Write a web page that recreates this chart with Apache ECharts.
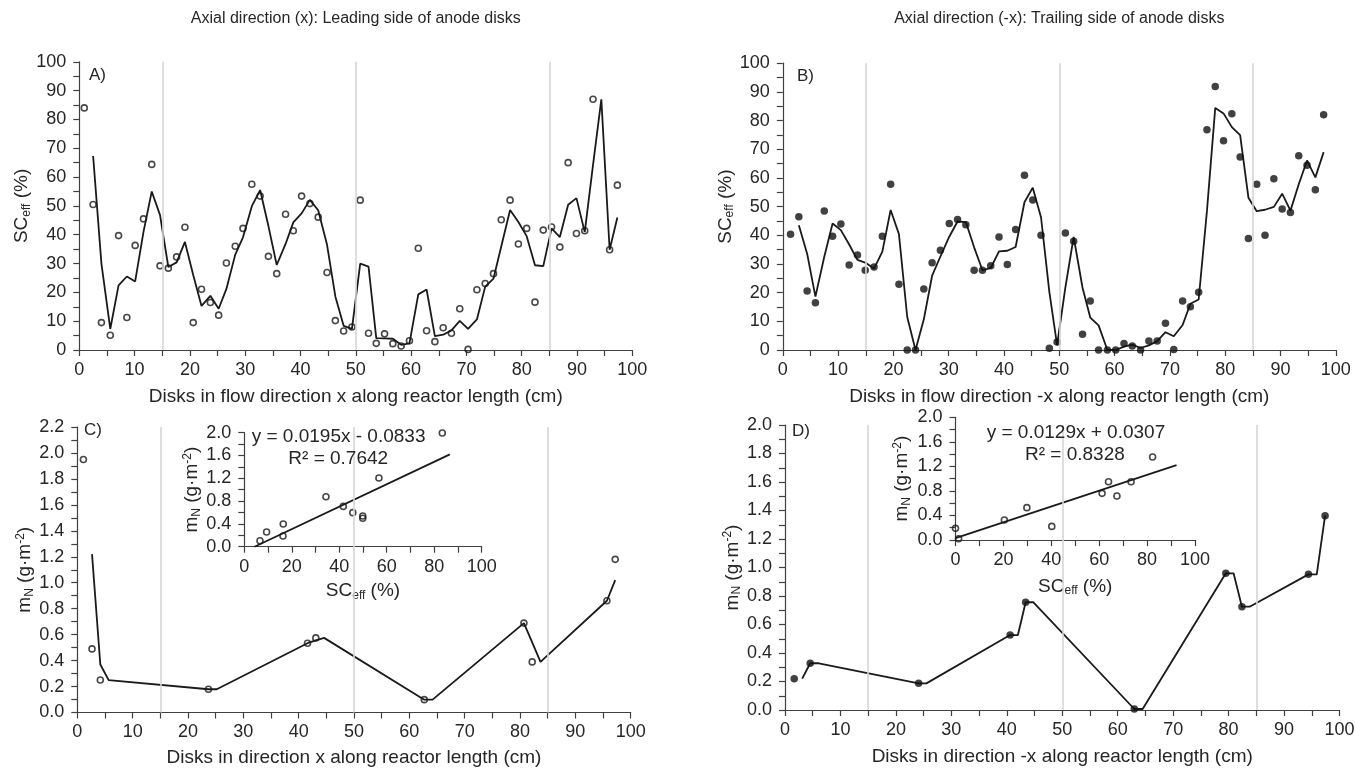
<!DOCTYPE html>
<html><head><meta charset="utf-8">
<script src="https://cdn.jsdelivr.net/npm/echarts@6/dist/echarts.min.js"></script>
<style>html,body{margin:0;padding:0;background:#fff}#c{width:1355px;height:768px}</style>
</head><body><div id="c"></div>
<script>
// ---------------- DATA ----------------
const titleA = 'Axial direction (x): Leading side of anode disks';
const titleB = 'Axial direction (-x): Trailing side of anode disks';
const refLines = [15, 50, 85];

// Panel A: SCeff (%) leading side, points [x cm, %]
const aPoints = [[0.9,84.0],[2.5,50.5],[4.0,9.5],[5.6,5.1],[7.1,39.7],[8.6,11.3],[10.1,36.3],[11.6,45.5],[13.1,64.4],[14.6,29.2],[16.1,28.4],[17.6,32.3],[19.1,42.6],[20.6,9.5],[22.1,21.1],[23.7,16.5],[25.2,12.1],[26.6,30.2],[28.2,36.0],[29.6,42.2],[31.2,57.5],[32.7,53.4],[34.2,32.5],[35.7,26.5],[37.3,47.1],[38.7,41.4],[40.2,53.4],[41.7,50.8],[43.2,46.1],[44.8,26.9],[46.3,10.2],[47.8,6.6],[49.3,8.0],[50.8,52.0],[52.3,5.8],[53.7,2.3],[55.2,5.6],[56.7,2.2],[58.2,1.4],[59.7,3.2],[61.3,35.3],[62.8,6.7],[64.3,2.9],[65.8,7.7],[67.3,5.8],[68.8,14.3],[70.3,0.2],[71.9,20.9],[73.4,23.1],[74.9,26.5],[76.3,45.2],[77.9,52.0],[79.4,36.8],[80.9,42.2],[82.4,16.6],[83.9,41.6],[85.4,42.7],[86.9,35.7],[88.4,65.0],[89.9,40.4],[91.4,41.4],[92.9,87.0],[95.9,34.8],[97.3,57.2]];
// Panel A: trend line vertices
const aTrend = [[2.5,67.3],[4.0,30.0],[5.6,7.3],[7.1,22.4],[8.6,25.5],[10.1,23.8],[11.6,40.9],[13.1,55.0],[14.6,46.8],[16.1,28.8],[17.6,30.4],[19.1,37.5],[20.6,26.0],[22.1,15.3],[23.7,18.8],[25.2,14.3],[26.6,21.2],[28.2,33.1],[29.6,39.1],[31.2,49.9],[32.7,55.5],[34.2,43.0],[35.7,29.5],[37.3,36.8],[38.7,44.3],[40.2,47.4],[41.7,52.1],[43.2,48.5],[44.8,36.5],[46.3,18.6],[47.8,8.4],[49.3,7.3],[50.8,30.0],[52.3,28.9],[53.7,4.1],[55.2,4.0],[56.7,3.9],[58.2,1.8],[59.7,2.3],[61.3,19.3],[62.8,21.0],[64.3,4.8],[65.8,5.3],[67.3,6.8],[68.8,10.1],[70.3,7.3],[71.9,10.6],[73.4,22.0],[74.9,24.8],[76.3,35.9],[77.9,48.6],[79.4,44.4],[80.9,39.5],[82.4,29.4],[83.9,29.1],[85.4,42.2],[86.9,39.2],[88.4,50.4],[89.9,52.7],[91.4,40.9],[92.9,64.2],[94.4,87.0],[95.9,34.8],[97.3,46.0]];

// Panel B: SCeff (%) trailing side
const bPoints = [[1.4,40.4],[2.9,46.5],[4.4,20.6],[5.9,16.5],[7.5,48.5],[9.0,39.7],[10.5,43.9],[12.0,29.6],[13.5,33.1],[14.9,27.8],[16.5,28.9],[18.0,39.7],[19.5,57.8],[21.0,22.9],[22.5,0],[24.0,0],[25.5,21.3],[27.0,30.4],[28.5,34.8],[30.1,44.1],[31.6,45.5],[33.1,43.7],[34.6,27.8],[36.1,27.8],[37.6,29.4],[39.1,39.4],[40.6,29.8],[42.1,42.0],[43.7,60.9],[45.2,52.3],[46.7,40.0],[48.2,0.6],[49.6,2.8],[51.1,40.8],[52.6,37.9],[54.2,5.5],[55.6,17.1],[57.1,0],[58.7,0],[60.2,0],[61.7,2.3],[63.2,1.4],[64.7,0],[66.2,3.1],[67.7,3.1],[69.2,9.3],[70.7,0.2],[72.3,17.1],[73.7,15.1],[75.2,20.1],[76.7,76.8],[78.2,91.9],[79.7,73.0],[81.2,82.4],[82.7,67.3],[84.2,38.9],[85.7,57.8],[87.2,40.0],[88.8,59.7],[90.3,49.2],[91.8,47.9],[93.3,67.7],[94.8,64.4],[96.3,55.9],[97.8,82.0]];
const bTrend = [[2.9,43.5],[4.4,33.6],[5.9,18.6],[7.5,32.5],[9.0,44.1],[10.5,41.8],[12.0,36.8],[13.5,31.4],[14.9,30.5],[16.5,28.4],[18.0,34.3],[19.5,48.8],[21.0,40.4],[22.5,11.5],[24.0,0],[25.5,10.7],[27.0,25.9],[28.5,32.6],[30.1,39.5],[31.6,44.8],[33.1,44.6],[34.6,35.8],[36.1,27.8],[37.6,28.6],[39.1,34.4],[40.6,34.6],[42.1,35.9],[43.7,51.5],[45.2,56.6],[46.7,46.2],[48.2,20.3],[49.6,1.7],[51.1,21.8],[52.6,39.4],[54.2,21.7],[55.6,11.3],[57.1,8.6],[58.7,0],[60.2,0],[61.7,1.2],[63.2,1.9],[64.7,0.7],[66.2,1.6],[67.7,3.1],[69.2,6.2],[70.7,4.8],[72.3,8.7],[73.7,16.1],[75.2,17.6],[76.7,48.5],[78.2,84.4],[79.7,82.5],[81.2,77.7],[82.7,74.9],[84.2,53.1],[85.7,48.4],[87.2,48.9],[88.8,49.9],[90.3,54.5],[91.8,48.6],[93.3,57.8],[94.8,66.1],[96.3,60.2],[97.8,69.0]];

// Panel C: mN (g/m2) leading side
const cPoints = [[1.1,1.95],[2.66,0.49],[4.16,0.25],[23.7,0.179],[41.6,0.534],[43.1,0.575],[62.7,0.099],[80.7,0.689],[82.2,0.39],[95.7,0.861],[97.2,1.18]];
const cTrend = [[2.66,1.22],[4.16,0.37],[5.67,0.25],[23.7,0.179],[25.2,0.179],[41.6,0.534],[43.1,0.555],[44.6,0.575],[62.7,0.099],[64.2,0.099],[80.7,0.689],[82.2,0.54],[83.7,0.39],[95.7,0.861],[97.2,1.02]];
// Panel D: mN trailing side
const dPoints = [[1.66,0.22],[4.55,0.328],[24.1,0.187],[40.6,0.526],[43.4,0.756],[63.0,0.007],[79.5,0.959],[82.4,0.725],[94.4,0.952],[97.4,1.364]];
const dTrend = [[3.1,0.22],[4.55,0.328],[6.1,0.328],[24.1,0.187],[25.5,0.187],[40.6,0.526],[42.0,0.526],[43.4,0.756],[44.8,0.756],[63.0,0.007],[64.5,0.007],[79.5,0.959],[80.9,0.959],[82.4,0.725],[83.8,0.725],[94.4,0.952],[95.9,0.952],[97.4,1.364]];

// Insets: mN vs SCeff
const insetCPoints = [[6.6,0.105],[9.4,0.258],[16.4,0.398],[16.3,0.188],[34.4,0.877],[41.7,0.707],[45.7,0.597],[49.9,0.539],[49.9,0.498],[56.7,1.205],[83.4,1.995]];
const insetCFit = [[4.3,0],[86.6,1.62]];
const insetCEq = ['y = 0.0195x - 0.0833', 'R² = 0.7642'];
const insetDPoints = [[0,0.19],[1.3,0.02],[20.4,0.326],[29.8,0.527],[40.2,0.222],[61.2,0.76],[63.9,0.95],[67.4,0.717],[73.3,0.95],[82.3,1.353]];
const insetDFit = [[0,0.031],[92.3,1.222]];
const insetDEq = ['y = 0.0129x + 0.0307', 'R² = 0.8328'];

const xNames = ['Disks in flow direction x along reactor length (cm)', 'Disks in flow direction -x along reactor length (cm)', 'Disks in direction x along reactor length (cm)', 'Disks in direction -x along reactor length (cm)'];
const panelLetters = ['A)', 'B)', 'C)', 'D)'];

// ---------------- CHART ----------------
const FONT = "'Liberation Sans', Arial, sans-serif";
const TXT = '#262626';
const AXC = '#404040';
const chart = echarts.init(document.getElementById('c'), null, {renderer: 'canvas'});

function rich(size) {
  const sub = Math.round(size * 0.62);
  return {
    m: {fontSize: size, fontFamily: FONT, color: TXT},
    s: {fontSize: sub, fontFamily: FONT, color: TXT, padding: [9, 0, 0, 0]},
    p: {fontSize: sub, fontFamily: FONT, color: TXT, padding: [0, 0, 9, 0]}
  };
}
const scName = '{m|SC}{s|eff}{m| (%)}';
const mnName = '{m|m}{s|N}{m| (g·m}{p|-2}{m|)}';

function fmtStep(step, dec) {
  return function (v) {
    const k = Math.round(v / step * 1000) / 1000;
    if (Math.abs(k - Math.round(k)) > 1e-6) return '';
    return dec ? v.toFixed(dec) : String(Math.round(v));
  };
}
function axis(gi, min, max, interval, labelStep, dec, name, nameGap, isY, nameSize) {
  const a = {
    type: 'value', gridIndex: gi, min: min, max: max, interval: interval,
    splitLine: {show: false},
    axisLine: {show: true, onZero: false, lineStyle: {color: AXC, width: 1.2}},
    axisTick: {show: true, length: 6, lineStyle: {color: AXC, width: 1.2}},
    axisLabel: {fontFamily: FONT, fontSize: 18, color: TXT, margin: isY ? 13 : 11, formatter: fmtStep(labelStep, dec), showMinLabel: true, showMaxLabel: true},
    name: name, nameLocation: 'middle', nameGap: nameGap,
    nameTextStyle: name && name.indexOf('{') === 0 ? {rich: rich(nameSize || 19)} : {fontFamily: FONT, fontSize: nameSize || 19, color: TXT}
  };
  if (isY) { a.nameRotate = 90; }
  return a;
}

const grids = [
  {left: 79.3, top: 61.8, width: 553, height: 288.2},
  {left: 782.8, top: 63.2, width: 553, height: 286.8},
  {left: 77.3, top: 427, width: 553.4, height: 285.5},
  {left: 785, top: 425, width: 554.5, height: 285},
  {left: 244.3, top: 432.7, width: 237.4, height: 114},
  {left: 955.5, top: 417.3, width: 239.5, height: 122.7}
].map(g => Object.assign({containLabel: false, outerBoundsMode: 'none'}, g));

const xAxes = [
  axis(0, 0, 100, 5, 10, 0, xNames[0], 37, false),
  axis(1, 0, 100, 5, 10, 0, xNames[1], 37, false),
  axis(2, 0, 100, 5, 10, 0, xNames[2], 36, false),
  axis(3, 0, 100, 5, 10, 0, xNames[3], 37, false),
  axis(4, 0, 100, 10, 20, 0, scName, 34, false),
  axis(5, 0, 100, 10, 20, 0, scName, 36, false)
];
const yAxes = [
  axis(0, 0, 100, 5, 10, 0, scName, 33, true),
  axis(1, 0, 100, 5, 10, 0, scName, 33, true),
  axis(2, 0, 2.2, 0.1, 0.2, 1, mnName, 40, true),
  axis(3, 0, 2.0, 0.1, 0.2, 1, mnName, 40, true),
  axis(4, 0, 2.0, 0.2, 0.4, 1, mnName, 41, true),
  axis(5, 0, 2.0, 0.2, 0.4, 1, mnName, 43, true)
];

function refSeries(i) {
  return {type: 'line', xAxisIndex: i, yAxisIndex: i, data: [], z: 1, silent: true,
    markLine: {silent: true, symbol: ['none', 'none'], label: {show: false}, animation: false,
      lineStyle: {color: '#d6d6d6', width: 1.6, type: 'solid'},
      data: refLines.map(v => ({xAxis: v}))}};
}
function trendSeries(i, data) {
  return {type: 'line', xAxisIndex: i, yAxisIndex: i, data: data, showSymbol: false, symbol: 'none', z: 3,
    lineStyle: {color: '#1a1a1a', width: 1.8}, silent: true, clip: false};
}
function openPts(i, data) {
  return {type: 'scatter', xAxisIndex: i, yAxisIndex: i, data: data, symbol: 'circle', symbolSize: 6, z: 4, clip: false,
    itemStyle: {color: 'rgba(0,0,0,0)', borderColor: '#1a1a1a', borderWidth: 1.6}, silent: true};
}
function filledPts(i, data) {
  return {type: 'scatter', xAxisIndex: i, yAxisIndex: i, data: data, symbol: 'circle', symbolSize: 7.5, z: 4, clip: false,
    itemStyle: {color: '#111'}, silent: true};
}

const series = [
  refSeries(0), trendSeries(0, aTrend), openPts(0, aPoints),
  refSeries(1), trendSeries(1, bTrend), filledPts(1, bPoints),
  refSeries(2), trendSeries(2, cTrend), openPts(2, cPoints),
  refSeries(3), trendSeries(3, dTrend), filledPts(3, dPoints),
  trendSeries(4, insetCFit), openPts(4, insetCPoints),
  trendSeries(5, insetDFit), openPts(5, insetDPoints)
];

function txt(x, y, s, size, align) {
  return {type: 'text', x: x, y: y, silent: true, z: 10,
    style: {text: s, fontFamily: FONT, fontSize: size, fill: TXT, textAlign: align || 'left', textVerticalAlign: 'middle'}};
}
const graphic = [
  txt(355.8, 19, titleA, 16, 'center'),
  txt(1059.3, 19, titleB, 16, 'center'),
  txt(89, 75, panelLetters[0], 17),
  txt(797, 76, panelLetters[1], 17),
  txt(84, 430, panelLetters[2], 17),
  txt(792, 431, panelLetters[3], 17),
  txt(251.7, 437, insetCEq[0], 19),
  txt(288.3, 458.5, insetCEq[1], 19),
  txt(986.7, 433, insetDEq[0], 19),
  txt(1025, 455, insetDEq[1], 19)
];

chart.setOption({
  animation: false,
  backgroundColor: '#fff',
  grid: grids,
  xAxis: xAxes,
  yAxis: yAxes,
  series: series,
  graphic: graphic
});
</script></body></html>
